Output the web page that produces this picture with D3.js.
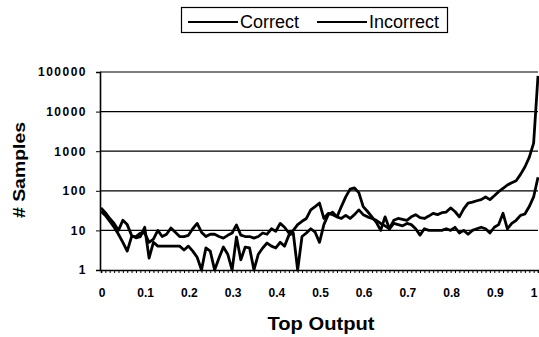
<!DOCTYPE html>
<html>
<head>
<meta charset="utf-8">
<script src="https://cdn.jsdelivr.net/npm/d3@7"></script>
<style>
  body { margin: 0; background: #fff; }
  svg { display: block; font-family: "Liberation Sans", Arial, sans-serif; }
</style>
</head>
<body>
<div id="chart"></div>
<script>
// top output buckets 0.00 .. 1.00 in steps of 0.01
var outputs = d3.range(101).map(function (i) { return i / 100; });

var xTickValues = [0, 0.1, 0.2, 0.3, 0.4, 0.5, 0.6, 0.7, 0.8, 0.9, 1];
var xTickLabels = ["0", "0.1", "0.2", "0.3", "0.4", "0.5", "0.6", "0.7", "0.8", "0.9", "1"];
var yTickValues = [1, 10, 100, 1000, 10000, 100000];

var seriesNames = ["Correct", "Incorrect"];

// # samples per bucket
var correct = [
  30, 24, 17, 12, 8, 5, 3, 7, 7, 8.5,
  8.6, 5, 6, 10, 7, 8, 11.5, 9, 7, 7,
  7.5, 11, 15, 9, 7, 8, 8, 7, 6.4, 7.5,
  8.6, 13.7, 7.6, 7, 7, 6.4, 7, 8.6, 8, 11,
  9.5, 15, 12, 8.6, 10, 14, 17, 20, 33, 40,
  49, 20, 27, 25, 22, 40, 70, 110, 118, 90,
  40, 30, 22, 16, 10, 22, 11, 18, 20, 19,
  18, 22, 25, 21, 20, 23, 27, 25, 28, 29,
  37, 30, 22, 35, 49, 52, 56, 60, 70, 60,
  75, 95, 115, 140, 160, 180, 260, 400, 700, 1600,
  80000
];

var incorrect = [
  37, 28, 20, 15, 10, 18, 14, 7.5, 6.5, 7,
  12, 2, 5, 4, 4, 4, 4, 4, 4, 3.2,
  4, 3, 2.1, 1, 3.6, 3, 1, 2, 3.8, 2.5,
  1, 6.8, 1.8, 3.8, 3.6, 1, 2.5, 3.6, 4.8, 4,
  3.6, 5, 4, 7.6, 8.6, 1, 7, 8.6, 11, 9,
  5, 14, 25, 29, 22, 20, 24, 20, 25, 33,
  25, 22, 20, 18, 15, 13, 11, 15, 14, 13,
  15, 14, 11, 7.6, 11, 10, 10, 10, 10, 11,
  10, 12, 8.6, 10, 8, 10, 11, 12, 11, 8.6,
  12, 14, 27, 11, 15, 18, 24, 26, 40, 70,
  220
];

var width = 539, height = 337;
var margin = { top: 72, right: 1, bottom: 67, left: 101 };

var svg = d3.select("#chart").append("svg")
  .attr("width", width)
  .attr("height", height);

var x = d3.scaleLinear()
  .domain([0, 1])
  .range([margin.left, width - margin.right]);

var y = d3.scaleLog()
  .domain([1, 100000])
  .range([height - margin.bottom, margin.top]);

// horizontal gridlines
svg.append("g")
  .attr("class", "grid")
  .selectAll("line")
  .data(yTickValues.slice(1))
  .enter()
  .append("line")
  .attr("x1", x(0) - 1)
  .attr("x2", x(1))
  .attr("y1", function (d) { return y(d); })
  .attr("y2", function (d) { return y(d); })
  .attr("stroke", "#000")
  .attr("stroke-width", 1.2);

// x axis: one small tick per bucket
var xAxis = d3.axisBottom(x)
  .tickValues(outputs)
  .tickSize(3)
  .tickFormat("");

svg.append("g")
  .attr("class", "x axis")
  .attr("transform", "translate(0," + y(1) + ")")
  .call(xAxis)
  .call(function (g) {
    g.select(".domain").attr("stroke-width", 1.6);
    g.selectAll(".tick line").attr("stroke-width", 1);
  });

// x tick labels (last one kept inside the frame)
svg.append("g")
  .selectAll("text")
  .data(xTickValues)
  .enter()
  .append("text")
  .attr("x", function (d) { return Math.min(x(d) + 1, width - 5); })
  .attr("y", 297)
  .attr("text-anchor", "middle")
  .attr("font-size", "12px")
  .attr("font-weight", "bold")
  .text(function (d, i) { return xTickLabels[i]; });

// y axis
var yAxis = d3.axisLeft(y)
  .tickValues(yTickValues)
  .tickSize(4)
  .tickPadding(9)
  .tickFormat(d3.format("d"));

svg.append("g")
  .attr("class", "y axis")
  .attr("transform", "translate(" + (x(0) - 1) + ",0)")
  .call(yAxis)
  .call(function (g) {
    g.select(".domain").attr("stroke-width", 1.6);
    g.selectAll(".tick text")
      .attr("font-size", "12px")
      .attr("font-weight", "bold")
      .attr("fill", "#000")
      .attr("font-family", "Liberation Sans, Arial, sans-serif")
      .style("letter-spacing", "1.5px");
  });

// series lines
var line = d3.line()
  .x(function (d, i) { return x(outputs[i]); })
  .y(function (d) { return y(d); });

svg.append("g")
  .selectAll("path")
  .data([correct, incorrect])
  .enter()
  .append("path")
  .attr("d", line)
  .attr("fill", "none")
  .attr("stroke", "#000")
  .attr("stroke-width", 2.8)
  .attr("stroke-linejoin", "round");

// axis titles
svg.append("text")
  .attr("x", 321)
  .attr("y", 330)
  .attr("text-anchor", "middle")
  .attr("font-size", "18px")
  .attr("font-weight", "bold")
  .attr("textLength", 107)
  .attr("lengthAdjust", "spacingAndGlyphs")
  .text("Top Output");

svg.append("text")
  .attr("transform", "translate(25,170) rotate(-90)")
  .attr("text-anchor", "middle")
  .attr("font-size", "17px")
  .attr("font-weight", "bold")
  .attr("textLength", 96)
  .attr("lengthAdjust", "spacingAndGlyphs")
  .text("# Samples");

// legend
var legend = svg.append("g").attr("class", "legend");
legend.append("rect")
  .attr("x", 181.5)
  .attr("y", 7.5)
  .attr("width", 266)
  .attr("height", 25)
  .attr("fill", "#fff")
  .attr("stroke", "#000")
  .attr("stroke-width", 1.2);

var legendX = [188, 317];
var legendItem = legend.selectAll(".item")
  .data(seriesNames)
  .enter()
  .append("g")
  .attr("class", "item")
  .attr("transform", function (d, i) { return "translate(" + legendX[i] + ",0)"; });

legendItem.append("line")
  .attr("x1", 0)
  .attr("x2", 50)
  .attr("y1", 22)
  .attr("y2", 22)
  .attr("stroke", "#000")
  .attr("stroke-width", 2);

legendItem.append("text")
  .attr("x", 52)
  .attr("y", 28)
  .attr("font-size", "18px")
  .text(function (d) { return d; });
</script>
</body>
</html>
